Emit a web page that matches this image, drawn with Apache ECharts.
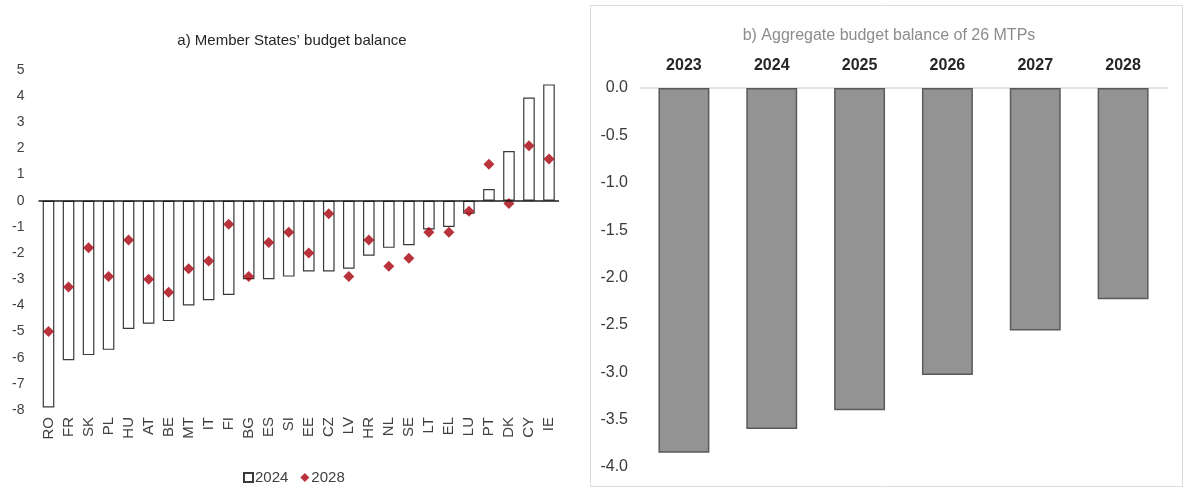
<!DOCTYPE html>
<html>
<head>
<meta charset="utf-8">
<title>Budget balance</title>
<script src="https://cdn.jsdelivr.net/npm/echarts@6/dist/echarts.min.js"></script>
<style>
  html, body { margin: 0; padding: 0; background: #ffffff; }
  #chart { width: 1187px; height: 489px; }
</style>
</head>
<body>
<div id="chart"></div>
<script>
// Panel a) member states, sorted by 2024 balance (% of GDP)
const countries = ['RO','FR','SK','PL','HU','AT','BE','MT','IT','FI','BG','ES','SI','EE','CZ','LV','HR','NL','SE','LT','EL','LU','PT','DK','CY','IE'];
const balance2024 = [-7.9,-6.1,-5.9,-5.7,-4.9,-4.7,-4.6,-4.0,-3.8,-3.6,-3.0,-3.0,-2.9,-2.7,-2.7,-2.6,-2.1,-1.8,-1.7,-1.1,-1.0,-0.5,0.45,1.9,3.95,4.45];
const balance2028 = [-5.0,-3.3,-1.8,-2.9,-1.5,-3.0,-3.5,-2.6,-2.3,-0.9,-2.9,-1.6,-1.2,-2.0,-0.5,-2.9,-1.5,-2.5,-2.2,-1.2,-1.2,-0.4,1.4,-0.1,2.1,1.6];

// Panel b) aggregate of the 26 plans
const years = ['2023','2024','2025','2026','2027','2028'];
const aggregateBalance = [-3.85,-3.6,-3.4,-3.03,-2.56,-2.23];

const FONT = '"Liberation Sans", Arial, sans-serif';

const chart = echarts.init(document.getElementById('chart'), null, { renderer: 'canvas' });

chart.setOption({
  animation: false,
  textStyle: { fontFamily: FONT },
  title: [
    {
      text: 'a) Member States\u2019 budget balance',
      left: 287, top: 28, textAlign: 'center',
      textStyle: { fontFamily: FONT, fontSize: 15, fontWeight: 'normal', color: '#262626' }
    },
    {
      text: 'b) Aggregate budget balance of 26 MTPs',
      left: 884, top: 23, textAlign: 'center',
      textStyle: { fontFamily: FONT, fontSize: 16, fontWeight: 'normal', color: '#8c8c8c' }
    }
  ],
  graphic: [
    {
      type: 'rect', silent: true, z: -1,
      shape: { x: 590.5, y: 5.5, width: 592, height: 481 },
      style: { fill: 'none', stroke: '#dcdcdc', lineWidth: 1 }
    }
  ],
  legend: {
    left: 238, top: 465,
    itemGap: 12, itemWidth: 9, itemHeight: 9,
    textStyle: { fontFamily: FONT, fontSize: 15, color: '#404040', padding: [0, 0, 0, -3] },
    data: [
      { name: '2024', icon: 'rect' },
      { name: '2028', icon: 'diamond' }
    ]
  },
  grid: [
    { left: 38.5, right: 628, top: 70, bottom: 79 },
    { left: 640, right: 20, top: 88, bottom: 22 }
  ],
  xAxis: [
    {
      gridIndex: 0, type: 'category', data: countries,
      axisLine: { show: false }, axisTick: { show: false },
      axisLabel: { rotate: 90, fontSize: 15, color: '#404040', margin: 7, fontFamily: FONT },
      splitLine: { show: false }
    },
    {
      gridIndex: 1, type: 'category', data: years, position: 'top',
      axisLine: { show: true, lineStyle: { color: '#d9d9d9', width: 1.5 } },
      axisTick: { show: false },
      axisLabel: { fontSize: 16, fontWeight: 'bold', color: '#262626', margin: 14, fontFamily: FONT },
      splitLine: { show: false }
    }
  ],
  yAxis: [
    {
      gridIndex: 0, type: 'value', min: -8, max: 5, interval: 1,
      axisLine: { show: false }, axisTick: { show: false }, splitLine: { show: false },
      axisLabel: { fontSize: 14, color: '#404040', margin: 14, fontFamily: FONT }
    },
    {
      gridIndex: 1, type: 'value', min: -4, max: 0, interval: 0.5,
      axisLine: { show: false }, axisTick: { show: false }, splitLine: { show: false },
      axisLabel: { fontSize: 16, color: '#3a3a3a', margin: 12, fontFamily: FONT,
        formatter: v => v.toFixed(1) }
    }
  ],
  series: [
    {
      name: '2024', type: 'bar', xAxisIndex: 0, yAxisIndex: 0,
      data: balance2024, barCategoryGap: '42%',
      itemStyle: { color: '#ffffff', borderColor: '#3a3a3a', borderWidth: 1.2 },
      markLine: {
        silent: true, symbol: 'none', label: { show: false },
        lineStyle: { color: '#1a1a1a', type: 'solid', width: 1.5 },
        data: [{ yAxis: 0 }]
      },
      z: 2
    },
    {
      name: '2028', type: 'scatter', xAxisIndex: 0, yAxisIndex: 0,
      data: balance2028, symbol: 'diamond', symbolSize: 11,
      itemStyle: { color: '#a8000c' },
      z: 4
    },
    {
      name: 'aggregate', type: 'bar', xAxisIndex: 1, yAxisIndex: 1,
      data: aggregateBalance, barCategoryGap: '42%',
      itemStyle: { color: '#939393', borderColor: '#5a5a5a', borderWidth: 1.5 }
    }
  ]
});
</script>
</body>
</html>
